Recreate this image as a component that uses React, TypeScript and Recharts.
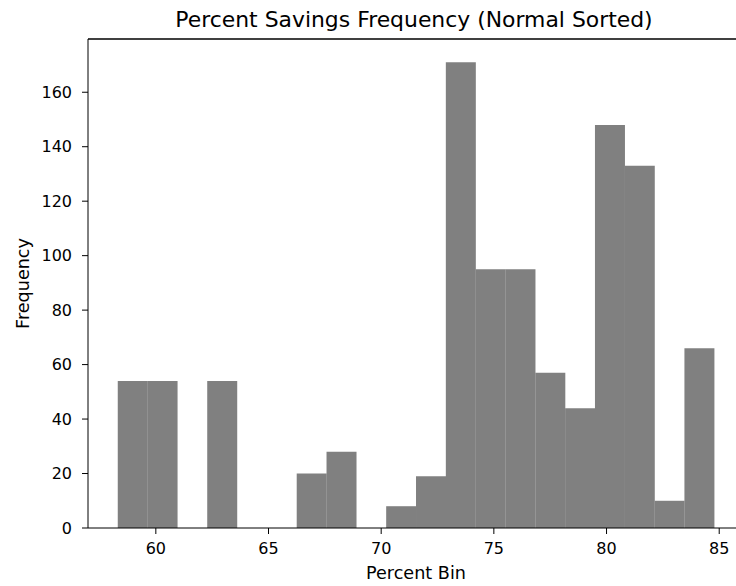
import { ComposedChart, Bar, XAxis, YAxis, ReferenceLine } from "recharts";

// histogram bin centres (20 bins, ~1.32 wide, from ~58.3 to ~84.8)
const binCenters = [
  58.972, 60.295, 61.619, 62.942, 64.266, 65.589, 66.913, 68.236, 69.56, 70.883,
  72.207, 73.53, 74.854, 76.177, 77.501, 78.824, 80.148, 81.471, 82.795, 84.118,
];
const frequency = [54, 54, 0, 54, 0, 0, 20, 28, 0, 8, 19, 171, 95, 95, 57, 44, 148, 133, 10, 66];
const xTicks = [60, 65, 70, 75, 80, 85];
const yTicks = [0, 20, 40, 60, 80, 100, 120, 140, 160];

const data = binCenters.map((bin, i) => ({ bin, count: frequency[i] }));

const font = "'DejaVu Sans', sans-serif";
const tickStyle = { fill: "#000", fontSize: 16, fontFamily: font };
const labelStyle = { fill: "#000", fontSize: 17.6, fontFamily: font };
const yMax = 179.55;

const App = () => {
  return (
    <div
      style={{
        position: "absolute",
        left: 0,
        top: 0,
        width: 736,
        height: 586,
        overflow: "hidden",
        background: "#fff",
        fontFamily: font,
      }}
    >
      <div
        style={{
          position: "absolute",
          top: 9,
          left: 86,
          width: 656,
          textAlign: "center",
          fontSize: 21.9,
          lineHeight: "21.9px",
          color: "#000",
          whiteSpace: "nowrap",
        }}
      >
        Percent Savings Frequency (Normal Sorted)
      </div>
      <ComposedChart
        width={760}
        height={586}
        data={data}
        margin={{ top: 39, right: 16, bottom: 0, left: 0 }}
        barCategoryGap={0}
        barGap={0}
      >
        <XAxis
          dataKey="bin"
          type="number"
          domain={[56.99, 86.1]}
          ticks={xTicks}
          allowDataOverflow
          height={58}
          tickSize={6}
          tickMargin={9}
          tick={tickStyle}
          stroke="#000"
          label={{
            value: "Percent Bin",
            position: "insideBottom",
            offset: 7,
            style: labelStyle,
          }}
        />
        <YAxis
          type="number"
          domain={[0, yMax]}
          ticks={yTicks}
          allowDataOverflow
          width={88}
          tickSize={6}
          tickMargin={10}
          tick={tickStyle}
          stroke="#000"
          label={{
            value: "Frequency",
            angle: -90,
            position: "insideLeft",
            offset: 23,
            style: { ...labelStyle, textAnchor: "middle" },
          }}
        />
        <Bar dataKey="count" fill="#808080" isAnimationActive={false} />
        {/* top spine */}
        <ReferenceLine y={yMax} stroke="#000" strokeWidth={1.5} ifOverflow="visible" />
      </ComposedChart>
    </div>
  );
};

export default App;
